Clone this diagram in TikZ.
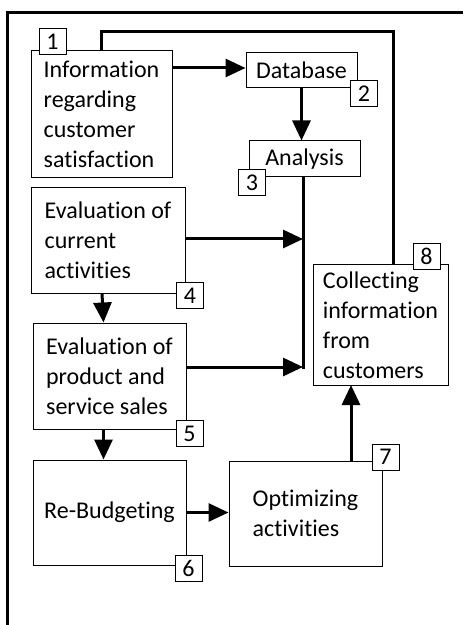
\documentclass[tikz,border=0pt]{standalone}
\usepackage{fontspec}
\setmainfont[Ligatures=NoCommon]{Carlito}
\usetikzlibrary{arrows.meta}

\begin{document}
\begin{tikzpicture}[
    x=0.5pt, y=-0.5pt,
    stagebox/.style={draw, line width=0.5pt, align=left, inner sep=0pt,
      font=\fontsize{12}{15}\selectfont},
    numtag/.style={draw, fill=white, line width=0.5pt, minimum width=13.5pt,
      minimum height=13pt, inner sep=0pt, font=\fontsize{12}{14}\selectfont},
    flow/.style={line width=1.5pt},
    >={Triangle[length=10pt,width=9pt]}
  ]
    \useasboundingbox (0,0) rectangle (463,625);

    % outer frame (cut off at right and bottom)
    \draw[flow] (7.5,625) |- (463,12.5);

    \node[stagebox, minimum width=70.5pt, minimum height=63.5pt] (info) at (101.5,114)
      {Information\\regarding\\customer\\satisfaction};
    \node[stagebox, minimum width=55.5pt, minimum height=17.5pt] (db) at (301.5,70.5)
      {Database};
    \node[stagebox, minimum width=55.5pt, minimum height=18pt] (anl) at (304.5,159)
      {Analysis};
    \node[stagebox, minimum width=77pt, minimum height=52.5pt] (evcur) at (108,240.5)
      {Evaluation of\\current\\activities};
    \node[stagebox, minimum width=76.5pt, minimum height=53pt] (evsal) at (109.5,376)
      {Evaluation of\\product and\\service sales};
    \node[stagebox, minimum width=76.5pt, minimum height=52.5pt] (budg) at (109.5,512.5)
      {Re-Budgeting};
    \node[stagebox, minimum width=76.5pt, minimum height=52.5pt] (optm) at (305.5,513.5)
      {Optimizing\\activities};
    \node[stagebox, minimum width=67.5pt, minimum height=60pt] (coll) at (380.5,325)
      {Collecting\\information\\from\\customers};

    \node[numtag] (n1) at (52.5,41.5)  {1};
    \node[numtag] (n2) at (364,93.5)   {2};
    \node[numtag] (n3) at (252,183)    {3};
    \node[numtag] (n4) at (190,295.5)  {4};
    \node[numtag] (n5) at (189.5,433.5) {5};
    \node[numtag] (n6) at (188.5,568.5) {6};
    \node[numtag] (n7) at (385.5,457)  {7};
    \node[numtag] (n8) at (426.5,256.5) {8};

    \coordinate (j4) at (303,239);
    \coordinate (j5) at (303,367);
    \coordinate (up) at (351,385);
    \coordinate (fb) at (393,32);

    \draw[flow, ->] (info.east |- 0,68) -- (db.west |- 0,68);
    \draw[flow, ->] (db.south) -- (db.south |- anl.north);
    \draw[flow] (anl.south -| j5) -- ([yshift=-0.75pt]j5);
    \draw[flow, ->] (evcur.east |- j4) -- (j4);
    \draw[flow, ->] (evsal.east |- j5) -- (j5);
    \draw[flow, ->] ([xshift=-3pt]evcur.south) -- ([xshift=-3pt]evsal.north);
    \draw[flow, ->] ([xshift=-3pt]evsal.south) -- ([xshift=-3pt]budg.north);
    \draw[flow, ->] (budg.east) -- (budg.east -| optm.west);
    \draw[flow, ->] (optm.north -| up) -- (up);
    \draw[flow] (coll.north -| fb) -- (fb) -| (info.north);
  \end{tikzpicture}
\end{document}
